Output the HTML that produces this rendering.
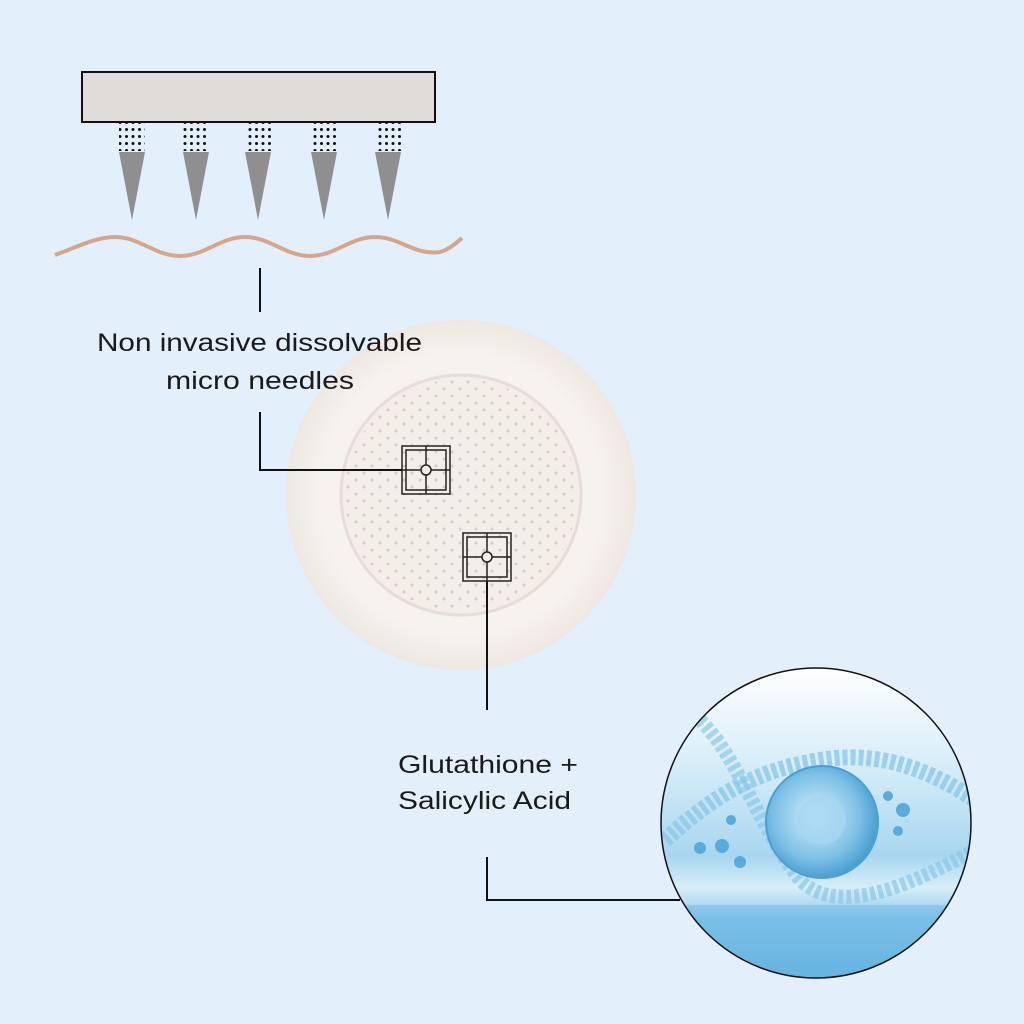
<!DOCTYPE html>
<html><head><meta charset="utf-8"><style>
html,body{margin:0;padding:0;background:#e3effa;}
svg{display:block}
text{font-family:"Liberation Sans",sans-serif;font-size:25px;fill:#1a1a1a}
</style></head><body>
<svg width="1024" height="1024" viewBox="0 0 1024 1024" xmlns="http://www.w3.org/2000/svg">
<defs>
<pattern id="dots" width="6.5" height="7" patternUnits="userSpaceOnUse"><circle cx="3" cy="3.5" r="1.5" fill="#111"/></pattern>
<pattern id="pdots" width="16" height="14" patternUnits="userSpaceOnUse"><circle cx="4" cy="4" r="1.5" fill="#c9c1b9"/><circle cx="12" cy="11" r="1.5" fill="#c9c1b9"/></pattern>
<radialGradient id="patch" cx="0.5" cy="0.5" r="0.5"><stop offset="0.8" stop-color="#f6f2ee"/><stop offset="1" stop-color="#efe8e2"/></radialGradient>
<linearGradient id="sky" x1="0" y1="0" x2="0" y2="1"><stop offset="0" stop-color="#ffffff"/><stop offset="0.3" stop-color="#d8eef9"/><stop offset="0.6" stop-color="#a8d6f0"/><stop offset="0.7" stop-color="#d8eef9"/><stop offset="0.8" stop-color="#8cc8ea"/><stop offset="1" stop-color="#6bb6e2"/></linearGradient>
<radialGradient id="cell" cx="0.45" cy="0.45" r="0.55"><stop offset="0" stop-color="#d6eef9"/><stop offset="0.7" stop-color="#7cc0e6"/><stop offset="1" stop-color="#4a9fd3"/></radialGradient>
<clipPath id="cc"><circle cx="816" cy="823" r="155"/></clipPath>
</defs>
<rect width="1024" height="1024" fill="#e3effa"/>
<rect x="82" y="72" width="353" height="50" fill="#dfdcd9" stroke="#111" stroke-width="2"/>
<g>
<rect x="119" y="123" width="26" height="28" fill="url(#dots)"/>
<rect x="183" y="123" width="26" height="28" fill="url(#dots)"/>
<rect x="245" y="123" width="26" height="28" fill="url(#dots)"/>
<rect x="311" y="123" width="26" height="28" fill="url(#dots)"/>
<rect x="375" y="123" width="26" height="28" fill="url(#dots)"/>
<polygon points="119,152 145,152 132,220" fill="#8f8f8f"/>
<polygon points="183,152 209,152 196,220" fill="#8f8f8f"/>
<polygon points="245,152 271,152 258,220" fill="#8f8f8f"/>
<polygon points="311,152 337,152 324,220" fill="#8f8f8f"/>
<polygon points="375,152 401,152 388,220" fill="#8f8f8f"/>
</g>
<path d="M55,255 C75,248 95,237 115,237 C140,237 155,256 180,256 C205,256 220,237 245,237 C270,237 285,256 310,256 C335,256 350,237 375,237 C400,237 415,256 440,252 C450,249 456,243 462,238" fill="none" stroke="#d5a58c" stroke-width="4"/>
<circle cx="461" cy="495" r="175" fill="url(#patch)"/>
<circle cx="461" cy="495" r="120" fill="#f3eee9" stroke="#e6ded6" stroke-width="3"/>
<circle cx="461" cy="495" r="116" fill="url(#pdots)" opacity="0.7"/>
<g stroke="#111" stroke-width="2" fill="none">
<line x1="260" y1="268" x2="260" y2="312"/>
<polyline points="260,412 260,470 402,470"/>
<line x1="487" y1="581" x2="487" y2="710"/>
<polyline points="487,857 487,900 680,900"/>
</g>
<g stroke="#222" stroke-width="1.5" fill="none">
<rect x="402" y="446" width="48" height="48"/><rect x="406" y="450" width="40" height="40"/>
<line x1="426" y1="446" x2="426" y2="494"/><line x1="402" y1="470" x2="450" y2="470"/>
<circle cx="426" cy="470" r="5" fill="#f3ece5"/>
<rect x="463" y="533" width="48" height="48"/><rect x="467" y="537" width="40" height="40"/>
<line x1="487" y1="533" x2="487" y2="581"/><line x1="463" y1="557" x2="511" y2="557"/>
<circle cx="487" cy="557" r="5" fill="#f3ece5"/>
</g>
<text x="97" y="351" textLength="325" lengthAdjust="spacingAndGlyphs">Non invasive dissolvable</text>
<text x="166" y="389" textLength="188" lengthAdjust="spacingAndGlyphs">micro needles</text>
<text x="398" y="773" textLength="180" lengthAdjust="spacingAndGlyphs">Glutathione +</text>
<text x="398" y="809" textLength="173" lengthAdjust="spacingAndGlyphs">Salicylic Acid</text>
<g clip-path="url(#cc)">
<rect x="660" y="667" width="315" height="315" fill="url(#sky)"/>
<path d="M665,840 C720,790 760,770 820,760 C880,750 930,770 975,800" fill="none" stroke="#8cc8ea" stroke-width="16" stroke-dasharray="5 3" opacity="0.8"/>
<path d="M700,720 C740,760 760,830 800,880 C840,920 920,880 975,850" fill="none" stroke="#8cc8ea" stroke-width="14" stroke-dasharray="5 3" opacity="0.7"/>
<circle cx="822" cy="822" r="56" fill="url(#cell)" stroke="#4d9fd3" stroke-width="2"/>
<circle cx="822" cy="820" r="24" fill="#a6d6f2" opacity="0.8"/>
<circle cx="722" cy="846" r="7" fill="#5aaada"/><circle cx="700" cy="848" r="6" fill="#5aaada"/><circle cx="740" cy="862" r="6" fill="#5aaada"/><circle cx="731" cy="820" r="5" fill="#5aaada"/>
<circle cx="903" cy="810" r="7" fill="#5aaada"/><circle cx="888" cy="796" r="5" fill="#5aaada"/><circle cx="898" cy="831" r="5" fill="#5aaada"/>
<rect x="660" y="905" width="315" height="80" fill="#5aaedf" opacity="0.35"/>
</g>
<circle cx="816" cy="823" r="155" fill="none" stroke="#111" stroke-width="1.5"/>
</svg>
</body></html>
